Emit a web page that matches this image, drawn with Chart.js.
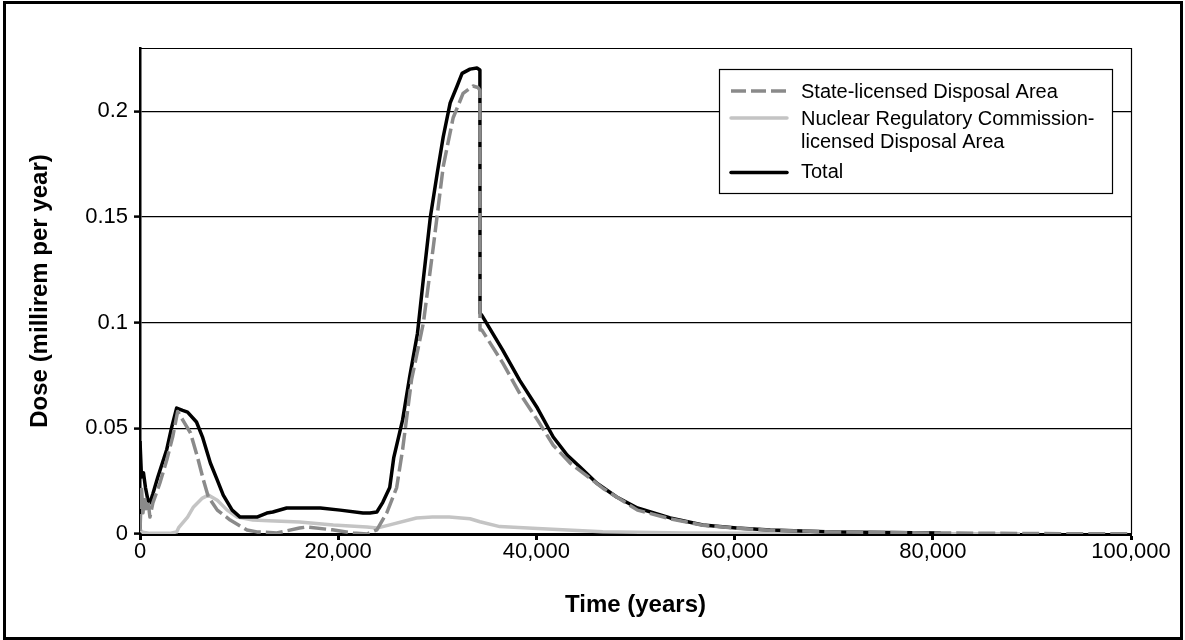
<!DOCTYPE html>
<html>
<head>
<meta charset="utf-8">
<script src="https://cdn.jsdelivr.net/npm/chart.js@4.4.1/dist/chart.umd.min.js"></script>
<style>
  html, body { margin: 0; padding: 0; background: #fff; }
  #wrap { width: 1185px; height: 640px; }
</style>
</head>
<body>
<div id="wrap"><canvas id="c" width="1185" height="640"></canvas></div>
<script>
// ---- data (time in years, dose in millirem per year) ----
const seriesNames = ["State-licensed Disposal Area", "Nuclear Regulatory Commission-licensed Disposal Area", "Total"];
const legendLines = [["State-licensed Disposal Area"], ["Nuclear Regulatory Commission-", "licensed Disposal Area"], ["Total"]];

const stateT = [0, 150, 300, 450, 600, 800, 1000, 1300, 2000, 2700, 3300, 3800, 4500, 5100, 5800, 6400, 6900, 7800, 9100, 10800, 11800, 13800, 16100, 16800, 19400, 21500, 22900, 23900, 24900, 25900, 26500, 27400, 28600, 29600, 30600, 31600, 32600, 33600, 34100, 34300, 34310, 34500, 36600, 38300, 40100, 41700, 43400, 46700, 50200, 53500, 56800, 60200, 63600, 70000, 80000, 90000, 100000];
const stateDose = [0.0014, 0.022, 0.010, 0.018, 0.012, 0.016, 0.008, 0.0147, 0.024, 0.035, 0.046, 0.058, 0.0525, 0.0478, 0.0364, 0.0255, 0.0175, 0.0113, 0.0066, 0.0019, 0.001, 0.0005, 0.0028, 0.0033, 0.002, 0.0005, 0.0, 0.002, 0.010, 0.022, 0.040, 0.073, 0.100, 0.136, 0.174, 0.197, 0.2085, 0.212, 0.2113, 0.210, 0.0965, 0.0965, 0.081, 0.0667, 0.054, 0.042, 0.0336, 0.0217, 0.0113, 0.0072, 0.0041, 0.0027, 0.0018, 0.001, 0.0005, 0.0002, 0.0001];

const nrcT = [0, 300, 1000, 2000, 3000, 3700, 3900, 4800, 5400, 6300, 6900, 7800, 8800, 9800, 11400, 13000, 16100, 19500, 22900, 23900, 25200, 27900, 29500, 31200, 33300, 34300, 36300, 40100, 46700, 55000, 70000, 88800];
const nrcDose = [0.002, 0.0008, 0.0003, 0.0003, 0.0003, 0.001, 0.003, 0.008, 0.0128, 0.017, 0.0184, 0.016, 0.0113, 0.008, 0.0066, 0.0063, 0.0057, 0.0043, 0.0033, 0.0028, 0.0043, 0.0076, 0.008, 0.008, 0.0072, 0.0058, 0.0035, 0.0026, 0.0011, 0.0005, 0.0002, 0.0001];

const totalT = [0, 150, 350, 550, 800, 1000, 1300, 1800, 2700, 3200, 3700, 4300, 4800, 5700, 6300, 7100, 7800, 8400, 9300, 10100, 11800, 12800, 13400, 14800, 18200, 20200, 22500, 23200, 23900, 24500, 25200, 25600, 26500, 27200, 28000, 28600, 29300, 30000, 30600, 31300, 32000, 32500, 33300, 34000, 34300, 34310, 34500, 36600, 38300, 40100, 41700, 43100, 44400, 46100, 48100, 50200, 53500, 56800, 60200, 63600, 70000, 80800];
const totalDose = [0.044, 0.027, 0.029, 0.022, 0.016, 0.0147, 0.019, 0.027, 0.040, 0.0506, 0.0596, 0.0585, 0.0577, 0.053, 0.046, 0.0336, 0.0255, 0.0184, 0.0113, 0.008, 0.008, 0.0099, 0.0104, 0.0123, 0.0123, 0.0113, 0.0099, 0.0099, 0.0104, 0.015, 0.022, 0.036, 0.054, 0.074, 0.095, 0.121, 0.150, 0.171, 0.188, 0.204, 0.212, 0.218, 0.220, 0.2205, 0.2196, 0.1045, 0.1035, 0.087, 0.0728, 0.0596, 0.0459, 0.0374, 0.0317, 0.024, 0.0175, 0.0123, 0.0076, 0.0043, 0.0028, 0.0019, 0.001, 0.0005];

const xTicks = [0, 20000, 40000, 60000, 80000, 100000];
const yTicks = [0, 0.05, 0.1, 0.15, 0.2];
const xTitle = "Time (years)";
const yTitle = "Dose (millirem per year)";

// ---- chart ----
const FONT = "'Liberation Sans', Arial, Helvetica, sans-serif";
Chart.defaults.font.family = FONT;
Chart.defaults.color = '#000';

const toPts = (t, v) => t.map((x, i) => ({x: x, y: v[i]}));

const COL_STATE = '#8a8a8a';
const COL_NRC = '#c4c4c4';
const COL_TOTAL = '#000000';

const datasets = [
  { label: seriesNames[0], data: toPts(stateT, stateDose), borderColor: COL_STATE, borderWidth: 3.5, borderDash: [17, 5], legendKey: 0 },
  { label: seriesNames[2], data: toPts(totalT, totalDose), borderColor: COL_TOTAL, borderWidth: 3.5, legendKey: 2 },
  { label: seriesNames[1], data: toPts(nrcT, nrcDose), borderColor: COL_NRC, borderWidth: 3.5, legendKey: 1 }
].map(d => Object.assign({ pointRadius: 0, tension: 0, fill: false, borderJoinStyle: 'round', parsing: false, normalized: true }, d));

const framePlugin = {
  id: 'frame',
  beforeDatasetsDraw(chart) {
    const {ctx, chartArea: a} = chart;
    ctx.save();
    ctx.strokeStyle = '#000';
    ctx.lineWidth = 1.2;
    ctx.beginPath();
    ctx.moveTo(a.left, a.top + 0.5);
    ctx.lineTo(a.right + 0.5, a.top + 0.5);
    ctx.lineTo(a.right + 0.5, a.bottom);
    ctx.stroke();
    ctx.restore();
  },
  afterDraw(chart) {
    const ctx = chart.ctx;
    ctx.save();
    // outer frame
    ctx.strokeStyle = '#000';
    ctx.lineWidth = 3;
    ctx.strokeRect(4.5, 2.5, 1177, 636);

    // legend box
    const bx = 719.5, by = 69.5, bw = 393, bh = 124;
    ctx.fillStyle = '#fff';
    ctx.fillRect(bx, by, bw, bh);
    ctx.lineWidth = 1.2;
    ctx.strokeStyle = '#000';
    ctx.strokeRect(bx, by, bw, bh);

    const rows = [
      { key: 0, lineY: 91, textY: [92] },
      { key: 1, lineY: 118, textY: [119.5, 142] },
      { key: 2, lineY: 172.5, textY: [172] }
    ];
    ctx.font = "20px " + FONT;
    ctx.textBaseline = 'middle';
    ctx.textAlign = 'left';
    rows.forEach(r => {
      const ds = chart.data.datasets.find(d => d.legendKey === r.key);
      ctx.save();
      ctx.strokeStyle = ds.borderColor;
      ctx.lineWidth = ds.borderWidth;
      ctx.setLineDash(ds.borderDash ? [15, 5] : []);
      ctx.lineCap = ds.borderDash ? 'butt' : 'round';
      ctx.beginPath();
      ctx.moveTo(731, r.lineY);
      ctx.lineTo(787, r.lineY);
      ctx.stroke();
      ctx.restore();
      ctx.fillStyle = '#000';
      legendLines[r.key].forEach((txt, i) => ctx.fillText(txt, 801, r.textY[i]));
    });
    ctx.restore();
  }
};

new Chart(document.getElementById('c'), {
  type: 'line',
  data: { datasets },
  plugins: [framePlugin],
  options: {
    responsive: false,
    animation: false,
    events: [],
    layout: { padding: { left: 0, top: 48, right: 54, bottom: 0 } },
    plugins: { legend: { display: false }, tooltip: { enabled: false } },
    scales: {
      x: {
        type: 'linear',
        min: 0, max: 100000,
        afterBuildTicks: s => { s.ticks = xTicks.map(v => ({value: v})); },
        afterFit: s => { s.height = 106; s.paddingLeft = 0; s.paddingRight = 0; },
        ticks: {
          font: { size: 22, lineHeight: 1 },
          color: '#000',
          padding: 1,
          maxRotation: 0,
          autoSkip: false,
          callback: v => Number(v).toLocaleString('en-US')
        },
        grid: { drawOnChartArea: false, drawTicks: true, tickLength: 6, tickWidth: 3, tickColor: '#000' },
        border: { display: true, color: '#000', width: 3 },
        title: { display: true, text: xTitle, color: '#000', font: { size: 24, weight: 'bold', lineHeight: 1.2 }, padding: { top: 0, bottom: 20 } }
      },
      y: {
        type: 'linear',
        min: 0, max: 0.23,
        afterBuildTicks: s => { s.ticks = yTicks.map(v => ({value: v})); },
        afterFit: s => { s.width = 140; s.paddingTop = 0; s.paddingBottom = 0; },
        ticks: {
          font: { size: 22 },
          color: '#000',
          padding: 6,
          autoSkip: false,
          callback: v => String(Number(Number(v).toFixed(2)))
        },
        grid: { drawOnChartArea: true, drawTicks: true, tickLength: 6, color: '#000', lineWidth: 1.2, tickWidth: 2.5, tickColor: '#000' },
        border: { display: true, color: '#000', width: 2.5 },
        title: { display: true, text: yTitle, color: '#000', font: { size: 24, weight: 'bold', lineHeight: 1.2 }, padding: { top: 26, bottom: 0 } }
      }
    }
  }
});
</script>
</body>
</html>
